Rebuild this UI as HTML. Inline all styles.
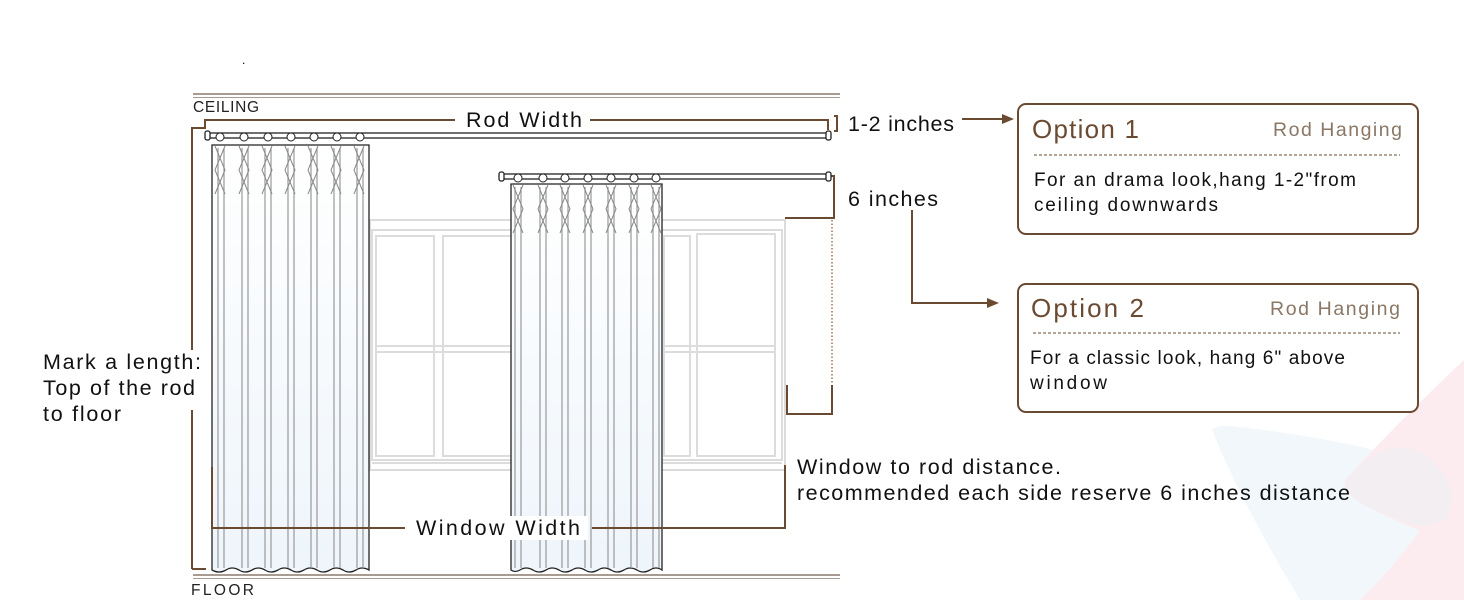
<!DOCTYPE html>
<html><head><meta charset="utf-8"><style>
html,body{margin:0;padding:0;background:#fff;}
svg{display:block;font-family:"Liberation Sans",sans-serif;}
</style></head><body>
<svg width="1464" height="600" viewBox="0 0 1464 600" xmlns="http://www.w3.org/2000/svg">
<defs>
<linearGradient id="cg" x1="0" y1="0" x2="0" y2="1"><stop offset="0" stop-color="#ffffff"/><stop offset="1" stop-color="#eef5fb"/></linearGradient>
</defs>
<path d="M1212 430 Q1215 425 1230 426 Q1360 440 1440 470 Q1460 490 1445 520 Q1420 560 1360 600 L1300 600 Q1240 500 1212 430 Z" fill="#f1f7fa"/>
<path d="M1464 360 L1464 600 L1360 600 Q1400 560 1420 530 Q1340 500 1345 480 Q1400 420 1464 360 Z" fill="#fcecf0"/>
<path d="M1345 480 Q1400 420 1440 470 Q1460 490 1445 520 Q1420 530 1400 520 Q1340 500 1345 480Z" fill="#f3eef1"/>
<text x="242" y="64" font-size="12">.</text>
<line x1="193" y1="94" x2="840" y2="94" stroke="#a89c92" stroke-width="2"/>
<line x1="193" y1="97.5" x2="840" y2="97.5" stroke="#a89c92" stroke-width="1"/>
<line x1="193" y1="575" x2="840" y2="575" stroke="#a89c92" stroke-width="2"/>
<line x1="193" y1="578.5" x2="840" y2="578.5" stroke="#a89c92" stroke-width="1"/>
<text x="193" y="112" font-size="15.5" fill="#222" textLength="66">CEILING</text>
<text x="191" y="595" font-size="15.5" fill="#222" textLength="63">FLOOR</text>
<g fill="none" stroke="#dcdcdc" stroke-width="2">
<rect x="370" y="220" width="415" height="250"/>
<rect x="372" y="230" width="410" height="230"/>
<rect x="376" y="236" width="58" height="220"/>
<rect x="443" y="236" width="70" height="220"/>
<rect x="664" y="236" width="26" height="220"/>
<rect x="697" y="234" width="78" height="222"/>
<line x1="376" y1="346" x2="512" y2="346"/>
<line x1="376" y1="352" x2="512" y2="352"/>
<line x1="664" y1="346" x2="775" y2="346"/>
<line x1="664" y1="352" x2="775" y2="352"/>
<line x1="372" y1="463" x2="782" y2="463"/>
</g>
<g fill="none" stroke="#6b4a32" stroke-width="2">
<polyline points="192,350 192,128 205,128 205,120 455,120"/>
<polyline points="590,120 828,120 828,130"/>
<line x1="192" y1="410" x2="192" y2="569"/>
<line x1="192" y1="569" x2="206" y2="569"/>
<polyline points="834,116 837,116 837,131 834,131"/>
<line x1="962" y1="119" x2="1005" y2="119"/>
<polyline points="785,218 834,218 834,176 828,176"/>
<polyline points="787,385 787,414 832,414 832,385"/>
<polyline points="912,210 912,303 990,303"/>
</g>
<line x1="832" y1="220" x2="832" y2="384" stroke="#a07050" stroke-width="1.5" stroke-dasharray="1.5,2"/>
<polygon points="1014,119 1002,114 1002,124" fill="#6b4a32"/>
<polygon points="999,303 987,298 987,308" fill="#6b4a32"/>
<g stroke="#222" stroke-width="1.3" fill="#fff">
<rect x="208" y="133" width="622" height="5"/>
<rect x="205" y="131" width="5" height="9" rx="2"/>
<rect x="826" y="131" width="5" height="9" rx="2"/>
<rect x="502" y="174" width="328" height="5"/>
<rect x="499" y="172" width="5" height="9" rx="2"/>
<rect x="826" y="172" width="5" height="9" rx="2"/>
</g>
<g>
<path d="M212 145 L369 145 L369 570 Q362 566 356 570 Q349 574 343 570 Q336 566 330 570 Q323 574 317 570 Q310 566 304 570 Q297 574 291 570 Q284 566 278 570 Q271 574 265 570 Q258 566 252 570 Q245 574 239 570 Q232 566 226 570 Q219 574 212 570 Z" fill="url(#cg)" stroke="#222" stroke-width="1.3"/>
<g stroke="#999" stroke-width="1.2" fill="none">
<path d="M218 148 V568 M224 148 V568 M242 148 V568 M248 148 V568 M265 148 V568 M271 148 V568 M288 148 V568 M294 148 V568 M311 148 V568 M317 148 V568 M334 148 V568 M340 148 V568 M357 148 V568 M363 148 V568"/>
</g>
<g stroke="#888" stroke-width="1" fill="none">
<path d="M215 146 L225 170 L215 194 M225 146 L215 170 L225 194 M239 146 L249 170 L239 194 M249 146 L239 170 L249 194 M262 146 L272 170 L262 194 M272 146 L262 170 L272 194 M285 146 L295 170 L285 194 M295 146 L285 170 L295 194 M308 146 L318 170 L308 194 M318 146 L308 170 L318 194 M331 146 L341 170 L331 194 M341 146 L331 170 L341 194 M354 146 L364 170 L354 194 M364 146 L354 170 L364 194"/>
</g>
<g stroke="#222" stroke-width="1" fill="#fff">
<circle cx="220" cy="137" r="4"/><circle cx="244" cy="137" r="4"/><circle cx="268" cy="137" r="4"/><circle cx="291" cy="137" r="4"/><circle cx="314" cy="137" r="4"/><circle cx="337" cy="137" r="4"/><circle cx="360" cy="137" r="4"/>
</g>
</g>
<g>
<path d="M511 184 L662 184 L662 570 Q656 566 650 570 Q643 574 637 570 Q630 566 624 570 Q617 574 611 570 Q604 566 598 570 Q591 574 585 570 Q578 566 572 570 Q565 574 559 570 Q552 566 546 570 Q539 574 533 570 Q526 566 520 570 Q515 573 511 570 Z" fill="url(#cg)" stroke="#222" stroke-width="1.3"/>
<g stroke="#999" stroke-width="1.2" fill="none">
<path d="M515 187 V568 M521 187 V568 M540 187 V568 M546 187 V568 M562 187 V568 M568 187 V568 M585 187 V568 M591 187 V568 M608 187 V568 M614 187 V568 M631 187 V568 M637 187 V568 M653 187 V568 M659 187 V568"/>
</g>
<g stroke="#888" stroke-width="1" fill="none">
<path d="M513 185 L523 209 L513 233 M523 185 L513 209 L523 233 M538 185 L548 209 L538 233 M548 185 L538 209 L548 233 M560 185 L570 209 L560 233 M570 185 L560 209 L570 233 M583 185 L593 209 L583 233 M593 185 L583 209 L593 233 M606 185 L616 209 L606 233 M616 185 L606 209 L616 233 M629 185 L639 209 L629 233 M639 185 L629 209 L639 233 M651 185 L661 209 L651 233 M661 185 L651 209 L661 233"/>
</g>
<g stroke="#222" stroke-width="1" fill="#fff">
<circle cx="518" cy="178" r="4"/><circle cx="543" cy="178" r="4"/><circle cx="565" cy="178" r="4"/><circle cx="588" cy="178" r="4"/><circle cx="611" cy="178" r="4"/><circle cx="634" cy="178" r="4"/><circle cx="656" cy="178" r="4"/>
</g>
</g>
<g fill="none" stroke="#6b4a32" stroke-width="2">
<polyline points="212,467 212,528 405,528"/>
<polyline points="592,528 785,528 785,465"/>
</g>
<rect x="410" y="516" width="178" height="24" fill="#fff"/>
<g font-size="21.5" fill="#111">
<text x="466" y="127" textLength="116">Rod Width</text>
<text x="848" y="131" textLength="106">1-2 inches</text>
<text x="848" y="206" textLength="90">6 inches</text>
<text x="416" y="535" textLength="164">Window Width</text>
<text x="43" y="369" textLength="158">Mark a length:</text>
<text x="43" y="395" textLength="152">Top of the rod</text>
<text x="43" y="421" textLength="78">to floor</text>
<text x="797" y="474" textLength="264">Window to rod distance.</text>
<text x="797" y="500" textLength="553">recommended each side reserve 6 inches distance</text>
</g>
<g fill="#fff" stroke="#6b4a32" stroke-width="2">
<rect x="1018" y="104" width="400" height="130" rx="8"/>
<rect x="1018" y="284" width="400" height="128" rx="8"/>
</g>
<g stroke="#6b4a32" stroke-width="1" stroke-dasharray="3,2">
<line x1="1034" y1="155" x2="1400" y2="155"/>
<line x1="1033" y1="333" x2="1400" y2="333"/>
</g>
<g font-size="26" fill="#6b4a32">
<text x="1032" y="138" textLength="107">Option 1</text>
<text x="1031" y="317" textLength="113">Option 2</text>
</g>
<g font-size="19.5" fill="#8a7766">
<text x="1273" y="136" textLength="129">Rod Hanging</text>
<text x="1270" y="315" textLength="130">Rod Hanging</text>
</g>
<g font-size="19" fill="#111">
<text x="1034" y="186" textLength="322">For an drama look,hang 1-2"from</text>
<text x="1034" y="211" textLength="184">ceiling downwards</text>
<text x="1030" y="364" textLength="315">For a classic look, hang 6" above</text>
<text x="1030" y="389" textLength="77">window</text>
</g>
</svg>
</body></html>
